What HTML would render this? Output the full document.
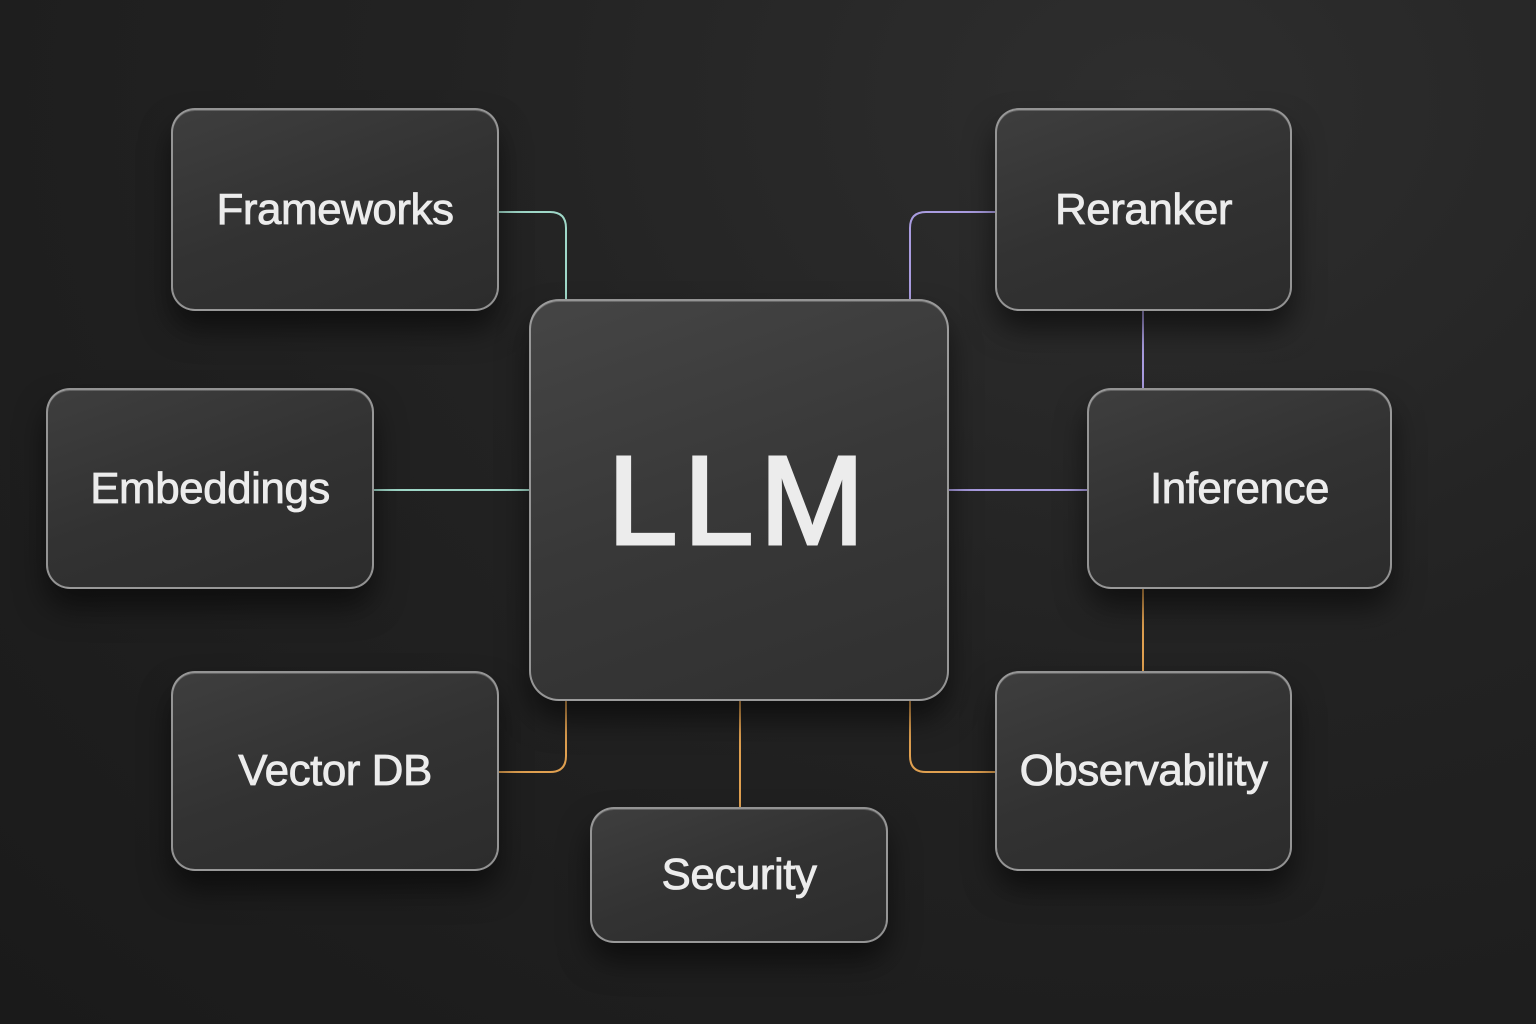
<!DOCTYPE html>
<html><head><meta charset="utf-8"><style>
html,body{margin:0;padding:0;}
body{width:1536px;height:1024px;overflow:hidden;position:relative;
background:radial-gradient(ellipse at 75% 10%,#2e2e2e 0%,#222 45%,#1a1a1a 100%);
font-family:"Liberation Sans",sans-serif;}
.b{position:absolute;box-sizing:border-box;border:2px solid rgba(210,210,210,0.62);border-radius:24px;
background:linear-gradient(160deg,#3e3e3e 0%,#323232 50%,#2c2c2c 100%);
box-shadow:0 18px 30px rgba(0,0,0,0.55),inset 0 1px 0 rgba(255,255,255,0.2);
display:flex;align-items:center;justify-content:center;color:#ececec;font-size:44px;letter-spacing:-0.5px;-webkit-text-stroke:0.8px #ececec;}
svg{position:absolute;left:0;top:0;}
</style></head><body>
<svg width="1536" height="1024" fill="none" stroke-width="2">
<path d="M498 212 H550 Q566 212 566 228 V300" stroke="#9fd8c8"/>
<path d="M995 212 H926 Q910 212 910 228 V300" stroke="#a99ce0"/>
<path d="M1143 310 V388" stroke="#a99ce0"/>
<path d="M373 490 H530" stroke="#9fd8c8"/>
<path d="M948 490 H1087" stroke="#a99ce0"/>
<path d="M1143 588 V671" stroke="#e0a050"/>
<path d="M498 772 H550 Q566 772 566 756 V700" stroke="#e0a050"/>
<path d="M740 700 V807" stroke="#e0a050"/>
<path d="M995 772 H926 Q910 772 910 756 V700" stroke="#e0a050"/>
</svg>
<div class="b" style="left:171px;top:108px;width:328px;height:203px;">Frameworks</div>
<div class="b" style="left:995px;top:108px;width:297px;height:203px;">Reranker</div>
<div class="b" style="left:46px;top:388px;width:328px;height:201px;">Embeddings</div>
<div class="b" style="left:1087px;top:388px;width:305px;height:201px;">Inference</div>
<div class="b" style="left:171px;top:671px;width:328px;height:200px;">Vector DB</div>
<div class="b" style="left:995px;top:671px;width:297px;height:200px;">Observability</div>
<div class="b" style="left:590px;top:807px;width:298px;height:136px;">Security</div>
<div class="b" style="left:529px;top:299px;width:420px;height:402px;border-radius:30px;font-size:126px;font-weight:normal;-webkit-text-stroke:3px #ececec;letter-spacing:6px;background:linear-gradient(160deg,#454545 0%,#383838 50%,#303030 100%);">LLM</div>
</body></html>
